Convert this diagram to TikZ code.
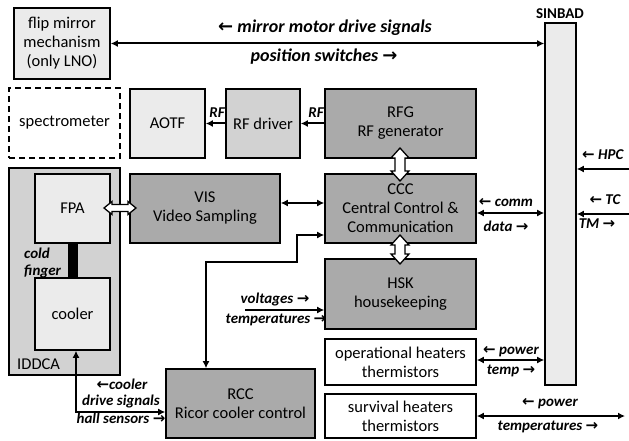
\documentclass[tikz,border=0pt]{standalone}
\usepackage{fontspec}
\setmainfont{Carlito}
\newfontfamily\arrowfont{DejaVu Sans}
\usetikzlibrary{arrows.meta,calc}
\newcommand{\lar}{{\arrowfont\bfseries\upshape ←}}
\newcommand{\rar}{{\arrowfont\bfseries\upshape →}}
\definecolor{gdark}{HTML}{AAAAAA}
\definecolor{gmid}{HTML}{D2D2D2}
\definecolor{glight}{HTML}{EBEBEB}
\newcommand{\fatV}[3]{% x, ytop, ybottom
  \draw[fatarrow] (#1,#2) -- ++(9,10) -- ++(-4,0) -- (#1+5,#3-10) -- ++(4,0) -- (#1,#3) -- ++(-9,-10) -- ++(4,0) -- (#1-5,#2+10) -- ++(-4,0) -- cycle;}
\newcommand{\fatH}[3]{% y, xleft, xright
  \draw[fatarrow] (#2,#1) -- ++(8,-6.5) -- ++(0,3) -- (#3-8,#1-3.5) -- ++(0,-3) -- (#3,#1) -- ++(-8,6.5) -- ++(0,-3) -- (#2+8,#1+3.5) -- ++(0,3) -- cycle;}
\begin{document}
\begin{tikzpicture}[x=1pt,y=-1pt,
  box/.style={draw, line width=1.6pt, inner sep=0pt, align=center, font=\fontsize{16.5}{19}\selectfont},
  lab/.style={font=\fontsize{15}{17}\selectfont\bfseries\itshape, inner sep=0pt},
  toplab/.style={font=\fontsize{18}{20}\selectfont\bfseries\itshape, inner sep=0pt},
  con/.style={line width=2pt, -{Latex[length=7pt,width=7pt]}},
  bicon/.style={line width=2pt, {Latex[length=7pt,width=7pt]}-{Latex[length=7pt,width=7pt]}},
  fatarrow/.style={draw, line width=1.3pt, fill=white, line join=miter},
]
\useasboundingbox (0,0) rectangle (629,441);

% boxes
\node[box, fill=glight, minimum width=96, minimum height=71] (flip) at (62,43.5) {flip mirror\\mechanism\\(only LNO)};
\node[box, dashed, dash pattern=on 6pt off 4pt, minimum width=111, minimum height=70] (spec) at (64.5,123) {spectrometer};
\node[box, fill=glight, minimum width=75, minimum height=69] (aotf) at (167.5,123.5) {AOTF};
\node[box, fill=gmid, minimum width=74, minimum height=69] (rfdrv) at (263,123.5) {RF driver};
\node[box, fill=gdark, minimum width=151, minimum height=69] (rfg) at (400.5,123.5) {RFG\\RF generator};
\node[box, fill=gmid, minimum width=111, minimum height=207] (iddca) at (64.5,271.5) {};
\node[box, fill=glight, minimum width=75, minimum height=69] (fpa) at (72.5,208.5) {FPA};
\node[box, fill=glight, minimum width=75, minimum height=72] (cooler) at (72.5,314) {cooler};
\fill (68,243) rectangle (78,278);
\node[anchor=west, font=\fontsize{16.5}{19}\selectfont, inner sep=0pt] (iddcalab) at (17,364) {IDDCA};
\node[box, fill=gdark, minimum width=150, minimum height=69] (vis) at (205,208.5) {VIS\\Video Sampling};
\node[box, fill=gdark, minimum width=151, minimum height=69] (ccc) at (400.5,208.5) {CCC\\Central Control \&\\Communication};
\node[box, fill=gdark, minimum width=151, minimum height=70] (hsk) at (400.5,294) {HSK\\housekeeping};
\node[box, fill=white, minimum width=151, minimum height=46] (ophe) at (400.5,362) {operational heaters\\thermistors};
\node[box, fill=white, minimum width=151, minimum height=44] (surv) at (400.5,416) {survival heaters\\thermistors};
\node[box, fill=gdark, minimum width=149, minimum height=69] (rcc) at (240.5,403.5) {RCC\\Ricor cooler control};
\node[box, fill=glight, minimum width=31, minimum height=362] (sinbad) at (560.5,204) {};
\node[font=\fontsize{15}{17}\selectfont\bfseries, inner sep=0pt] (sinlab) at (560,14) {SINBAD};

% connectors
\draw[bicon] (flip.east) -- (flip.east -| sinbad.west);
\draw[con] (rfg.west) -- (rfdrv.east);
\draw[con] (rfdrv.west) -- (aotf.east);
\coordinate (y203) at (0,203);
\draw[bicon] (vis.east |- y203) -- (ccc.west |- y203);
\coordinate (k1) at (297,235);
\coordinate (k2) at (297,262);
\coordinate (k3) at (206,262);
\draw[bicon] (rcc.north -| k3) -- (k3) -- (k2) -- (k1) -- (k1 -| ccc.west);
\coordinate (vt) at (245,310);
\draw[con] (vt) -- (vt -| hsk.west);
\coordinate (c1) at (76,412);
\draw[bicon] (cooler.south -| c1) -- (c1) -- (c1 -| rcc.west);
\coordinate (y213) at (0,213);
\draw[bicon] (ccc.east |- y213) -- (sinbad.west |- y213);
\coordinate (hpc) at (629,169);
\draw[con] (hpc) -- (hpc -| sinbad.east);
\coordinate (tc) at (629,214);
\draw[con] (tc) -- (tc -| sinbad.east);
\coordinate (y360) at (0,360);
\draw[bicon] (ophe.east |- y360) -- (sinbad.west |- y360);
\coordinate (sv) at (625,416);
\draw[bicon] (surv.east) -- (sv);

% fat hollow arrows
\fatH{208}{104}{136}
\fatV{400}{148}{181}
\fatV{400}{235}{264}

% labels
\node[toplab] (l1) at (325,28) {\lar\ mirror motor drive signals};
\node[toplab] (l2) at (324,57) {position switches \rar};
\node[lab, anchor=east] (l3) at (324,113) {RF};
\node[lab, anchor=east] (l4) at (225,113) {RF};
\node[lab, anchor=west] (l5) at (24,253) {cold};
\node[lab, anchor=west] (l6) at (24,271) {finger};
\node[lab] (l7) at (122,384) {\lar cooler};
\node[lab] (l8) at (121,401) {drive signals};
\node[lab] (l9) at (121,418) {hall sensors \rar};
\node[lab] (l10) at (275,299) {voltages \rar};
\node[lab] (l11) at (276,320) {temperatures \rar};
\node[lab] (l12) at (506,203) {\lar\ comm};
\node[lab] (l13) at (506,226) {data \rar};
\node[lab, anchor=west] (l14) at (582,155) {\lar\ HPC};
\node[lab] (l15) at (605,200) {\lar\ TC};
\node[lab] (l16) at (597,224) {TM \rar};
\node[lab] (l17) at (511,352) {\lar\ power};
\node[lab] (l18) at (511,371) {temp \rar};
\node[lab] (l19) at (550,404) {\lar\ power};
\node[lab] (l20) at (548,427) {temperatures \rar};
\end{tikzpicture}
\end{document}
